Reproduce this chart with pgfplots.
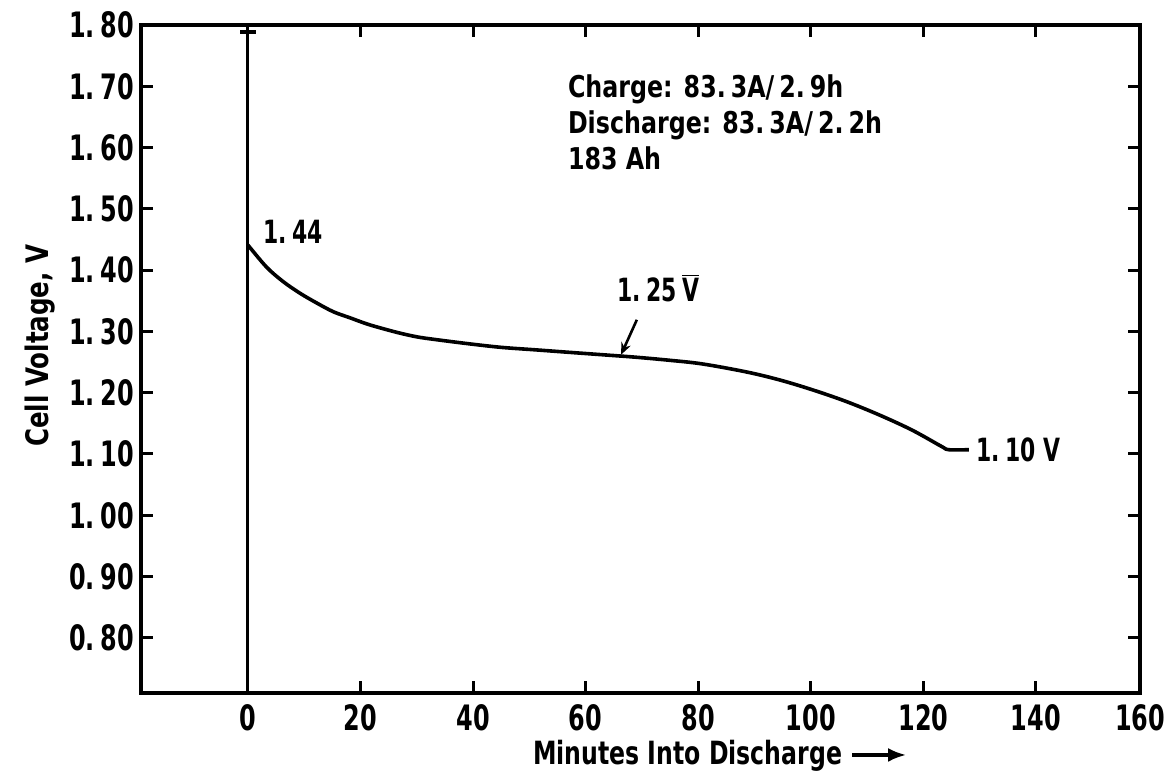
\documentclass[border=0pt]{standalone}
\usepackage{fontspec}
\setmainfont{DejaVu Sans Condensed}[FakeStretch=0.88]
\newfontfamily\narrowfont{DejaVu Sans Condensed}[FakeStretch=0.76]
\newfontfamily\labelfont{DejaVu Sans Condensed}[FakeStretch=0.82]
\usepackage{pgfplots}
\pgfplotsset{compat=1.18}
\usetikzlibrary{calc,arrows.meta}
\newcommand{\Vbar}{$\overline{\hbox{V}}$}
\begin{document}
\begin{tikzpicture}
\begin{axis}[
  name=ax,
  scale only axis,
  width=499.5pt, height=334pt,
  xmin=-19, xmax=158.5, ymin=0.71, ymax=1.80,
  xtick={0,20,40,60,80,100,120,140},
  xticklabels={0,20,40,60,80,100,120,140},
  extra x ticks={158.5},
  extra x tick labels={160},
  ytick={0.8,0.9,1.0,1.1,1.2,1.3,1.4,1.5,1.6,1.7,1.8},
  yticklabels={0.\,80,0.\,90,1.\,00,1.\,10,1.\,20,1.\,30,1.\,40,1.\,50,1.\,60,1.\,70,1.\,80},
  tick align=inside,
  major tick length=6pt,
  every tick/.style={line width=1.5pt, black},
  axis line style={line width=2pt},
  ticklabel style={font=\narrowfont\bfseries\fontsize{17.5}{17.5}\selectfont},
  xticklabel style={yshift=-2pt},
  xlabel={Minutes Into Discharge\ \tikz[baseline=-0.55ex]\draw[-{Latex[length=9pt,width=7pt]}, line width=1.6pt] (0,0)--(27pt,0);},
  ylabel={Cell Voltage, V},
  x label style={font=\labelfont\bfseries\fontsize{16}{16}\selectfont, at={(ticklabel cs:0.58)}, yshift=2pt},
  y label style={font=\bfseries\fontsize{15.5}{15.5}\selectfont, at={(ticklabel cs:0.52)}},
  clip=false,
]
% vertical line at t=0 with cap
\addplot[black, line width=1.5pt] coordinates {(0,0.71) (0,1.789)};
\addplot[black, line width=2pt] coordinates {(-1.4,1.789) (1.4,1.789)};
% discharge curve
\addplot[black, line width=1.8pt, smooth, tension=0.55] coordinates {
(0,1.441) (3.3,1.405) (6.3,1.381) (9.3,1.362) (12.3,1.346) (15.2,1.332)
(18.2,1.322) (21.2,1.312) (24.2,1.304) (27.1,1.297) (30.1,1.291) (33.1,1.287)
(39.1,1.280) (45,1.274) (51,1.270) (56.9,1.266) (62.9,1.262) (68.8,1.258)
(74.8,1.253) (80.7,1.247) (88.5,1.234) (94.4,1.221) (100.2,1.205)
(106.2,1.186) (112.1,1.164) (118,1.139) (123.3,1.112) (124.5,1.107) (128.1,1.107)};
\draw[-{Stealth[length=6pt,width=5pt]}, line width=1.3pt] (axis cs:69.1,1.319) -- (axis cs:66.3,1.262);
\node[anchor=west, font=\narrowfont\bfseries\fontsize{16}{16}\selectfont, inner sep=0pt] at (axis cs:2.7,1.463) {1.\,44};
\node[anchor=west, font=\narrowfont\bfseries\fontsize{16}{16}\selectfont, inner sep=0pt] at (axis cs:65.6,1.37) {1.\,25\,\Vbar};
\node[anchor=west, font=\narrowfont\bfseries\fontsize{16}{16}\selectfont, inner sep=0pt] at (axis cs:129.4,1.107) {1.\,10 V};
\node[anchor=north west, align=left, inner sep=0pt, font=\bfseries\fontsize{15}{18}\selectfont] at (axis cs:56.8,1.72)
  {Charge: 83.\,3A/\,2.\,9h\\Discharge: 83.\,3A/\,2.\,2h\\183 Ah};
\end{axis}
\pgfresetboundingbox
\path[use as bounding box] ($(ax.south west)+(-70.5pt,-41.5pt)$) rectangle ($(ax.north east)+(15.5pt,12.5pt)$);
\end{tikzpicture}
\end{document}
